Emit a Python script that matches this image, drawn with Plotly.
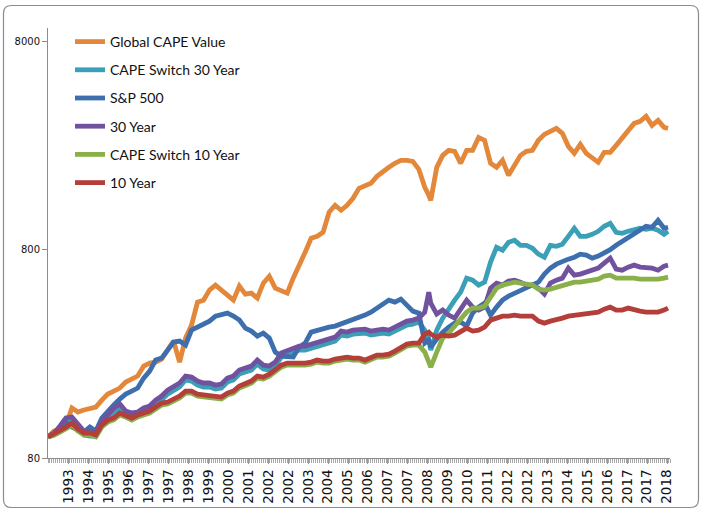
import plotly.graph_objects as go

# month index since Dec 1992 (sampled every 3 months, plus the 2008 spike month)
month_idx = list(range(0, 190, 3)) + [191] + list(range(192, 310, 3)) + [311]

global_cape = [101, 107.8, 109, 115.2, 139, 133, 136, 139, 140.5, 151.8,
               162.2, 167.7, 173.4, 185.3, 191.5, 198, 221, 228.5, 231, 238.8,
               263.8, 291.4, 231, 301, 347.7, 448, 458, 512, 541, 512,
               479, 458, 535, 490, 495, 468.6, 553, 597, 523, 512,
               495, 584, 667, 779, 908, 928, 970, 1211, 1308, 1238,
               1308, 1413, 1578, 1613, 1668, 1801, 1904, 1990, 2080, 2150,
               2150, 2126, 1946, 1595,
               1461,
               1382, 1990, 2272, 2401, 2375, 2080, 2401, 2401, 2771, 2682,
               2080, 1990, 2150, 1821, 2034, 2272, 2375, 2401, 2682, 2865,
               2961, 3061, 2897, 2510, 2323, 2566, 2323, 2222, 2103, 2349,
               2349, 2538, 2741, 2961, 3235, 3307, 3495, 3164, 3344, 3095,
               3061]

cape_switch_30 = [101, 103.2, 109, 119.1, 120.5, 111.4, 103.2, 102, 102, 115.2,
                  123.2, 133, 139, 128.7, 125.9, 127.3, 133, 136, 145.3, 151.9,
                  162.2, 167.8, 175.4, 189.5, 187.3, 179.2, 175.4, 175.4, 171.6, 173.4,
                  185.3, 189.5, 202.4, 206.9, 211.5, 226, 213.8, 211.5, 221, 244.2,
                  249.7, 258, 263.8, 263.8, 269.8, 272.7, 278.9, 288.2, 291.4, 311.4,
                  308, 314.8, 314.8, 318.4, 311.4, 314.8, 318.4, 314.8, 325.4, 336.5,
                  347.8, 351.7, 359.5, 329,
                  294.6,
                  263.8, 329, 375.7, 419.6, 458.4, 500.7, 584.4, 571.6, 541, 559.1,
                  697.4, 822, 796.4, 868.7, 888, 840, 840, 813, 762, 737,
                  840, 831, 849.7, 928, 1014.5, 928, 928, 949, 981, 1037,
                  1072, 970, 959.6, 981, 1003, 1014.5, 1003, 1014.5, 992, 949,
                  981]

sp500 = [101, 105.5, 109, 119, 112.6, 109, 106.6, 112.6, 107.8, 124.5,
         134.5, 143.7, 153.5, 162.2, 167.7, 173.4, 193.6, 209.2, 236.2, 241.5,
         263.8, 288.2, 291.4, 278.8, 329, 340, 351.6, 363.4, 384, 392.7,
         397, 384, 367.5, 336.4, 325.4, 308, 318.3, 301.2, 258, 246.9,
         246.9, 244.2, 272.7, 285, 321.8, 329, 332.7, 340, 343.9, 351.6,
         359.4, 367.5, 375.7, 388.4, 401.4, 419.6, 438.6, 458.4, 448.3, 463.4,
         433.7, 405.9, 397, 285,
         294.6,
         272.7, 297.9, 321.8, 340, 355.5, 359.4, 343.9, 397, 424.2, 443.4,
         388.4, 424.2, 458.4, 479, 495.2, 506.3, 529, 547, 559.1, 610.8,
         652.7, 682.2, 705.2, 720.9, 737, 762, 753.6, 729, 745.3, 770.4,
         800, 840, 878, 908, 959.6, 1003, 1037, 1025.7, 1108, 1014.5,
         1026]

thirty_year = [101, 105.5, 113.9, 124.5, 125.9, 116.4, 107.8, 106.6, 106.6, 120.4,
               128.7, 139, 145.3, 134.5, 131.6, 133, 139, 142.1, 151.8, 158.7,
               169.5, 175.3, 183.3, 198, 195.7, 187.3, 183.3, 183.3, 179.3, 181.2,
               193.6, 198, 211.5, 216.2, 221, 236.2, 223.4, 221, 231, 255.2,
               260.9, 269.7, 275.7, 275.7, 281.9, 285, 291.4, 301.2, 304.5, 325.4,
               321.8, 329, 329, 332.7, 325.4, 329, 332.7, 329, 340, 351.6,
               363.4, 367.5, 375.7, 401.4,
               500.7,
               443.4, 392.7, 410.4, 388.4, 375.7, 419.6, 458.4, 424.2, 410.4, 424.2,
               523.3, 553, 541, 565.4, 571.6, 559.1, 541, 541, 523.3, 489.8,
               553, 571.6, 584.4, 652.7, 604.1, 610.8, 624.4, 638.4, 652.7, 689.8,
               729, 645.6, 638.4, 660, 674.7, 660, 660, 652.7, 638.4, 667.3,
               674.7]

cape_switch_10 = [101, 103, 106.6, 110.1, 115.1, 107.8, 103.2, 103.2, 101, 112.7,
                  119, 121.8, 128.7, 125.9, 121.8, 125.9, 128.7, 131.6, 137.4, 143.7,
                  145.3, 150.2, 155.2, 164, 164, 158.7, 156.9, 156.9, 153.5, 153.5,
                  160.4, 164, 173.4, 177.3, 183.2, 193.7, 191.4, 197.9, 209.1, 218.5,
                  223.5, 223.5, 221.1, 223.5, 226, 231, 228.5, 228.5, 233.6, 236.2,
                  238.9, 236.2, 236.2, 231, 238.9, 244.2, 244.2, 246.9, 255.2, 263.8,
                  275.7, 278.8, 278.8, 258,
                  231,
                  218.6, 258, 301.2, 318.3, 343.9, 367.5, 401.4, 419.6, 419.6, 428.9,
                  468.6, 523.3, 541, 553, 559.1, 553, 547, 541, 517.6, 512,
                  517.6, 529, 541, 553, 559.1, 559.1, 565.4, 571.6, 578, 597.4,
                  604.1, 584.4, 584.4, 590.9, 584.4, 578, 578, 571.6, 578, 584.4,
                  590.9]

ten_year = [101, 104.3, 109, 112.6, 117.7, 110.2, 105.5, 105.5, 103.2, 115.2,
            121.7, 124.5, 131.6, 128.7, 124.5, 128.7, 131.6, 134.5, 140.5, 146.9,
            148.5, 153.5, 158.7, 167.7, 167.7, 162.2, 160.4, 160.4, 156.9, 156.9,
            164, 167.7, 177.3, 181.2, 187.3, 198, 195.7, 202.3, 213.8, 223.4,
            228.5, 228.5, 226, 228.5, 231, 236.2, 233.6, 233.6, 238.8, 241.5,
            244.2, 241.5, 241.5, 236.2, 244.2, 249.6, 249.6, 252.4, 260.9, 269.7,
            281.9, 285, 285, 314.8,
            321.8,
            314.8, 304.5, 311.4, 308, 311.4, 325.4, 336.4, 325.4, 329, 340,
            367.5, 375.7, 384, 384, 388.4, 384, 384, 384, 363.4, 355.5,
            363.4, 367.5, 375.7, 384, 388.4, 388.4, 397, 397, 401.4, 415,
            424.2, 410.4, 410.4, 419.6, 410.4, 405.9, 401.4, 401.4, 401.4, 410.4,
            419.6]

series_names = ["Global CAPE Value", "CAPE Switch 30 Year", "S&P 500",
                "30 Year", "CAPE Switch 10 Year", "10 Year"]
series_values = [global_cape, cape_switch_30, sp500, thirty_year, cape_switch_10, ten_year]
series_colors = ["#E3873A", "#3A9FB7", "#3D6EAD", "#71529E", "#8AB04A", "#B43E39"]

tick_labels = ["1993", "1994", "1995", "1996", "1997", "1997", "1998", "1999", "2000",
               "2001", "2002", "2002", "2003", "2004", "2005", "2006", "2007", "2007",
               "2008", "2009", "2010", "2011", "2012", "2012", "2013", "2014", "2015",
               "2016", "2017", "2017", "2018"]
tick_pos = [10.5 + 10 * k for k in range(len(tick_labels))]

fig = go.Figure()
for name, vals, col in zip(series_names, series_values, series_colors):
    fig.add_trace(go.Scatter(x=month_idx, y=vals, name=name, mode="lines",
                             legendgroup=name,
                             line=dict(color=col, width=4.8)))

# plot area in pixels: x 48..670, y 28..458
L, R, T, B = 48, 670, 28, 458
W, H = R - L, B - T
def px(x):
    return (x - L) / W
def py(y):
    return (B - y) / H

x0, x1, y0, y1 = px(3.5), px(698.5), py(507.5), py(5.5)
rx, ry = 8 / W, 8 / H
path = (f"M{x0+rx},{y1} L{x1-rx},{y1} Q{x1},{y1} {x1},{y1-ry} "
        f"L{x1},{y0+ry} Q{x1},{y0} {x1-rx},{y0} L{x0+rx},{y0} "
        f"Q{x0},{y0} {x0},{y0+ry} L{x0},{y1-ry} Q{x0},{y1} {x0+rx},{y1} Z")

fig.update_layout(
    width=702, height=513,
    margin=dict(l=L, r=702 - R, t=T, b=513 - B, pad=0, autoexpand=False),
    paper_bgcolor="white", plot_bgcolor="white",
    showlegend=True,
    legend=dict(x=px(70), y=py(26), xanchor="left", yanchor="top",
                font=dict(family="Lato", size=14, color="#111111"),
                bgcolor="rgba(0,0,0,0)", itemwidth=30, tracegroupgap=7,
                traceorder="grouped"),
    shapes=[dict(type="path", xref="paper", yref="paper", path=path,
                 line=dict(color="#8C8C8C", width=1.2), layer="below")],
    xaxis=dict(range=[0, 312], showgrid=False, zeroline=False, automargin=False,
               showline=True, linecolor="#8C8C8C", linewidth=1,
               tickmode="array", tickvals=tick_pos, ticktext=tick_labels,
               tickangle=-90, ticks="outside", ticklen=5, tickcolor="#9A9A9A",
               tickfont=dict(family="DejaVu Sans", size=13.5, color="#111111"),
               minor=dict(tickmode="linear", tick0=0, dtick=1, ticks="outside",
                          ticklen=4, tickcolor="#A8A8A8", tickwidth=1)),
    yaxis=dict(type="log", range=[1.9031, 3.9678], showgrid=False, zeroline=False,
               automargin=False,
               showline=True, linecolor="#8C8C8C", linewidth=1,
               tickmode="array", tickvals=[80, 800, 8000], ticktext=["80", "800", "8000"],
               ticks="outside", ticklen=5, tickcolor="#8C8C8C",
               tickfont=dict(family="DejaVu Sans", size=10, color="#111111")),
)

fig.write_html("out.html")
